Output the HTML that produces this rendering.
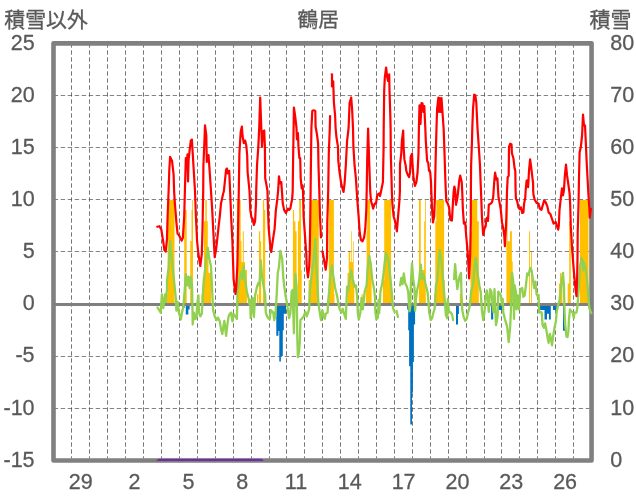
<!DOCTYPE html>
<html lang="ja"><head><meta charset="utf-8"><title>鶴居</title>
<style>
html,body{margin:0;padding:0;background:#fff;}
body{width:636px;height:501px;overflow:hidden;font-family:"Liberation Sans",sans-serif;}
svg{display:block;}
text{font-family:"Liberation Sans",sans-serif;font-size:22.9px;fill:#595959;stroke:#595959;stroke-width:0.3px;}
</style></head><body>
<svg width="636" height="501" viewBox="0 0 636 501" style="will-change:transform">
<rect width="636" height="501" fill="#fff"/>
<g stroke="#4a4a4a" stroke-width="0.75" stroke-dasharray="4.4 2.6" fill="none">
<line x1="71.50" y1="43.3" x2="71.50" y2="458.50"/>
<line x1="89.50" y1="43.3" x2="89.50" y2="458.50"/>
<line x1="107.50" y1="43.3" x2="107.50" y2="458.50"/>
<line x1="125.50" y1="43.3" x2="125.50" y2="458.50"/>
<line x1="143.50" y1="43.3" x2="143.50" y2="458.50"/>
<line x1="161.50" y1="43.3" x2="161.50" y2="458.50"/>
<line x1="179.50" y1="43.3" x2="179.50" y2="458.50"/>
<line x1="197.50" y1="43.3" x2="197.50" y2="458.50"/>
<line x1="215.50" y1="43.3" x2="215.50" y2="458.50"/>
<line x1="233.50" y1="43.3" x2="233.50" y2="458.50"/>
<line x1="251.50" y1="43.3" x2="251.50" y2="458.50"/>
<line x1="269.50" y1="43.3" x2="269.50" y2="458.50"/>
<line x1="286.50" y1="43.3" x2="286.50" y2="458.50"/>
<line x1="304.50" y1="43.3" x2="304.50" y2="458.50"/>
<line x1="322.50" y1="43.3" x2="322.50" y2="458.50"/>
<line x1="340.50" y1="43.3" x2="340.50" y2="458.50"/>
<line x1="358.50" y1="43.3" x2="358.50" y2="458.50"/>
<line x1="376.50" y1="43.3" x2="376.50" y2="458.50"/>
<line x1="394.50" y1="43.3" x2="394.50" y2="458.50"/>
<line x1="412.50" y1="43.3" x2="412.50" y2="458.50"/>
<line x1="430.50" y1="43.3" x2="430.50" y2="458.50"/>
<line x1="448.50" y1="43.3" x2="448.50" y2="458.50"/>
<line x1="466.50" y1="43.3" x2="466.50" y2="458.50"/>
<line x1="484.50" y1="43.3" x2="484.50" y2="458.50"/>
<line x1="501.50" y1="43.3" x2="501.50" y2="458.50"/>
<line x1="519.50" y1="43.3" x2="519.50" y2="458.50"/>
<line x1="537.50" y1="43.3" x2="537.50" y2="458.50"/>
<line x1="555.50" y1="43.3" x2="555.50" y2="458.50"/>
<line x1="573.50" y1="43.3" x2="573.50" y2="458.50"/>
<line x1="53.7" y1="95.50" x2="589.60" y2="95.50" stroke-width="0.68"/>
<line x1="53.7" y1="147.50" x2="589.60" y2="147.50" stroke-width="0.68"/>
<line x1="53.7" y1="199.50" x2="589.60" y2="199.50" stroke-width="0.68"/>
<line x1="53.7" y1="251.50" x2="589.60" y2="251.50" stroke-width="0.68"/>
<line x1="53.7" y1="356.50" x2="589.60" y2="356.50" stroke-width="0.68"/>
<line x1="53.7" y1="408.50" x2="589.60" y2="408.50" stroke-width="0.68"/>
</g>
<path fill="#FFC000" d="M165.7,304.1V294.3H167.6V200.0H174.5V304.1ZM184.2,304.1V210.0H186.7V304.1ZM190.2,304.1V241.0H191.5V210.0H192.2V200.0H193.0V304.1ZM201.5,304.1V294.0H202.8V276.6H204.0V221.2H205.3V200.0H206.8V221.2H207.8V250.0H208.5V272.9H211.0V304.1ZM236.9,304.1V200.0H240.7V241.3H241.5V262.0H242.8V231.3H243.8V262.0H245.0V270.0H246.9V304.1ZM257.0,304.1V294.3H258.3V304.1ZM258.9,304.1V231.3H260.2V241.3H261.2V304.1ZM262.9,304.1V200.0H264.2V209.9H265.2V304.1ZM292.9,304.1V209.9H294.1V221.2H295.4V231.3H296.6V304.1ZM297.9,304.1V221.2H299.2V200.0H301.0V270.0H301.7V304.1ZM308.6,304.1V280.0H310.5V200.0H318.8V304.1ZM328.8,304.1V200.0H333.9V294.0H334.5V304.1ZM347.5,304.1V272.9H348.7V252.0H350.2V262.0H351.2V231.3H351.9V262.0H353.0V241.3H353.7V280.0H354.3V304.1ZM361.5,304.1V294.3H362.8V304.1ZM365.9,304.1V290.0H366.6V231.3H367.2V200.0H370.1V261.5H371.6V304.1ZM382.9,304.1V280.0H384.2V200.0H391.1V290.0H391.7V304.1ZM415.8,304.1V300.0H417.0V304.1ZM418.9,304.1V200.0H420.8V270.0H424.2V221.2H425.0V200.0H425.8V304.1ZM434.0,304.1V294.0H435.3V221.2H436.3V200.0H444.1V280.0H444.7V304.1ZM459.8,304.1V294.0H461.0V304.1ZM470.5,304.1V232.0H471.7V200.0H477.3V221.2H478.8V304.1ZM506.4,304.1V241.3H507.4V200.0H508.0V241.3H510.0V231.3H511.9V261.5H512.7V304.1ZM529.1,304.1V231.3H530.0V304.1ZM531.0,304.1V252.0H531.9V304.1ZM558.9,304.1V283.6H560.0V272.9H561.4V283.6H562.4V304.1ZM567.7,304.1V283.6H569.2V221.4H570.8V304.1ZM580.0,304.1V200.0H588.5V304.1Z"/>
<path fill="#0070C0" d="M182.0,304.1V308.0H184.6V304.1ZM185.8,304.1V314.5H188.3V309.4H189.6V304.1ZM276.3,304.1V335.8H278.4V331.0H279.3V361.6H280.9V356.0H282.8V330.2H283.8V313.8H286.0V304.1ZM407.2,304.1V309.4H408.2V330.2H409.1V366.3H410.3V424.5H412.0V392.7H412.9V361.9H413.9V324.5H415.1V304.1ZM456.0,304.1V324.5H458.0V314.0H458.9V304.1ZM491.1,304.1V319.5H493.2V304.1ZM498.9,304.1V310.0H502.0V304.1ZM540.0,304.1V310.0H544.5V319.5H547.0V313.8H548.9V319.5H550.8V304.1ZM553.0,304.1V310.0H556.8V304.1ZM563.0,304.1V330.8H565.0V304.1Z"/>
<line x1="53.4" y1="304.5" x2="591.6" y2="304.5" stroke="#808080" stroke-width="3"/>
<rect x="53.5" y="43.35" width="538.05" height="417.15" fill="none" stroke="#808080" stroke-width="4.6" stroke-linejoin="round"/>
<g fill="none" stroke="#92D050" stroke-width="2.3" stroke-linejoin="round" stroke-linecap="round">
<polyline points="157.5,307.5 160.7,312.6 161.9,294.3 163.2,308.0 165.1,294.3 165.7,301.8 167.0,289.2 167.0,280.4 168.8,266.6 170.1,241.0 172.0,260.3 173.9,279.2 175.8,298.0 176.4,310.7 177.6,302.0 178.9,312.6 180.8,319.5 182.0,312.6 183.3,306.8 184.6,291.7 185.8,274.1 187.1,285.4 188.3,276.6 189.6,288.0 190.8,276.6 192.1,286.7 192.4,304.3 192.7,324.5 194.0,312.6 195.3,318.9 196.6,317.6 197.1,304.3 198.4,295.5 199.0,312.6 200.3,316.4 201.8,313.8 202.4,304.3 203.4,285.4 204.7,272.9 205.9,260.3 207.8,248.0 209.1,257.8 211.0,266.6 212.2,291.7 213.1,310.1 214.7,316.4 216.6,320.1 217.9,317.6 219.8,321.4 221.0,328.9 222.3,334.0 223.6,325.2 224.4,320.8 226.1,335.8 227.3,325.2 228.6,316.4 229.8,313.8 231.1,312.6 232.4,321.4 233.6,313.8 235.0,316.0 236.9,318.9 237.5,293.0 239.4,279.2 241.3,271.6 242.5,279.2 243.8,266.0 245.1,279.2 246.9,291.7 248.8,299.3 249.5,304.3 250.2,300.0 250.7,318.2 252.0,305.0 252.6,298.0 253.9,317.0 255.1,295.5 257.0,286.7 258.3,282.9 259.5,285.4 260.8,260.3 262.0,276.6 263.9,288.0 265.2,295.0 265.8,312.6 267.1,316.4 268.3,318.2 269.6,319.5 270.8,310.1 272.1,311.3 273.3,312.6 274.2,320.1 275.3,316.4 276.3,302.0 276.5,298.0 277.8,272.9 279.0,266.6 280.3,251.0 282.2,259.0 283.4,279.2 285.3,294.3 286.6,301.0 287.6,307.5 289.1,318.2 290.3,313.5 291.0,303.8 291.6,291.7 292.6,290.0 293.2,310.0 293.9,333.3 294.6,300.0 295.4,274.1 296.6,286.7 297.0,312.6 297.3,337.7 297.9,357.2 299.2,350.3 299.8,341.5 300.4,320.1 301.7,318.9 303.6,316.4 305.4,312.0 306.7,316.4 308.0,312.6 309.2,308.8 309.8,291.7 311.1,279.2 312.4,269.1 313.6,260.3 315.3,239.0 316.3,266.6 317.5,285.4 318.3,302.0 319.4,310.1 321.0,320.1 322.3,310.1 323.8,316.4 324.8,318.9 325.7,313.8 327.6,312.6 328.2,300.5 329.1,291.7 330.1,276.6 332.0,265.3 333.2,275.4 335.1,288.0 337.0,295.5 338.6,304.3 339.5,308.8 341.4,312.6 342.7,308.8 344.6,315.1 345.8,318.9 346.4,304.3 347.1,286.7 348.3,290.5 349.6,279.2 351.2,270.4 352.7,279.2 354.6,286.7 355.9,285.4 357.1,295.5 357.8,312.6 358.8,319.5 360.3,313.0 361.5,298.0 362.8,309.3 364.7,291.7 366.6,285.4 367.8,266.6 369.3,255.9 371.0,266.6 372.2,279.2 374.1,289.2 375.0,297.0 375.4,312.6 376.4,319.5 377.9,317.6 378.6,300.0 379.2,313.1 380.4,291.7 382.3,282.9 383.6,272.9 384.8,261.5 386.1,252.6 388.6,261.5 390.5,279.2 391.7,291.7 393.0,308.1 394.6,312.0"/>
<polyline points="396.6,311.0 397.9,317.0"/>
<polyline points="400.0,285.4 401.3,277.9 402.5,284.2 403.8,273.5 405.1,282.9 406.9,286.7 408.2,291.7 409.0,304.3 409.5,311.3 410.1,309.3 411.1,279.2 412.0,263.4 413.2,279.2 414.5,288.0 415.1,310.7 415.8,300.5 417.0,290.5 418.3,285.4 419.5,276.6 420.8,264.7 422.0,279.2 423.3,274.1 424.6,279.2 425.8,285.4 427.5,291.7 428.5,301.8 429.2,312.6 430.8,320.1 432.1,318.2 433.4,312.6 434.6,309.0 435.3,300.0 435.9,285.4 437.1,281.7 438.4,266.6 439.7,250.0 441.5,261.5 442.5,272.9 443.8,289.2 444.9,301.8 445.9,315.1 447.2,318.2 447.8,299.0 448.4,307.5 449.1,311.9 451.0,312.6 452.2,315.1 453.1,320.1"/>
<polyline points="454.1,279.2 455.1,264.1 456.4,279.2 457.3,289.2 458.5,281.7 459.8,275.4 461.0,272.9 461.4,291.7 462.3,310.0 463.5,316.4 465.2,320.8 466.7,318.9 468.0,312.6 469.8,306.0 471.1,291.7 473.0,285.4 474.3,270.0 475.5,257.8 476.3,260.3 477.5,272.9 479.4,285.4 480.7,291.7 481.5,304.3 481.9,310.1 483.2,320.1 484.4,312.6 485.7,295.5 486.9,290.5 488.2,304.3 488.8,311.9 490.1,289.2 491.4,291.7 492.6,304.3 493.5,312.0 494.5,289.2 495.3,310.0 496.0,325.2 496.8,321.0 497.6,316.4 498.3,291.7 499.5,293.0 500.8,295.5 502.0,304.3 502.7,299.0 503.3,312.6 505.2,320.1 507.1,326.4 508.7,342.1 510.2,326.4 511.0,308.0 511.5,279.2 512.1,272.9 513.4,282.9 514.0,318.9 514.6,285.4 515.9,291.7 516.5,309.3 517.8,295.5 519.0,309.3 520.3,289.2 522.2,288.0 523.4,296.8 524.7,295.5 525.9,285.4 527.2,273.5 528.4,275.4 530.3,267.8 531.6,270.4 532.9,279.2 534.1,288.0 535.4,281.7 536.6,294.3 537.9,296.8 538.6,294.9 539.2,312.6 540.7,312.0 541.7,312.6 542.6,325.2 543.9,327.7 545.1,323.3 546.4,330.2 547.6,337.7 548.6,342.8 549.9,334.0 550.8,337.7 552.0,345.3 553.3,335.2 554.5,327.7 555.8,322.0 556.7,312.0 558.3,304.3 559.5,300.5 560.8,289.2 562.0,279.2 563.0,272.9 563.9,285.4 564.6,312.6 565.2,325.2 566.5,336.5 567.5,337.1 568.4,331.4 569.0,318.9 570.0,309.4 571.3,311.3 572.8,312.6 573.8,318.2 574.4,312.6 576.5,312.6 577.5,306.3 577.9,300.0 579.0,285.4 580.0,266.6 581.5,257.8 582.8,261.5 583.4,270.4 584.3,262.8 585.3,266.6 586.5,274.1 587.5,285.4 588.4,298.0 589.3,308.1 591.3,313.1"/>
</g>
<g fill="none" stroke="#FF0000" stroke-width="2.2" stroke-linejoin="round" stroke-linecap="round">
<polyline points="157.3,226.8 159.4,226.2 161.3,229.4 163.2,241.3 164.4,250.1 165.7,251.6 167.0,238.8 167.6,216.2 168.6,191.0 169.3,170.0 170.1,156.9 172.0,160.7 173.6,174.5 174.1,191.0 174.9,203.6 176.4,222.4 177.6,233.8 178.9,235.0 180.3,238.0 181.7,240.7 182.9,237.5 184.2,216.2 184.9,191.0 185.8,158.2 186.4,168.3 187.5,154.4 188.0,181.5 188.6,160.0 189.6,150.6 190.8,140.6 191.9,139.6 192.7,153.2 195.0,191.0 195.9,216.2 197.1,241.3 198.4,254.0 200.3,266.0 201.8,254.0 202.5,228.7 203.2,191.0 203.4,165.7 204.7,134.3 205.0,125.4 206.3,135.5 206.8,162.0 208.5,155.0 209.1,163.2 211.0,191.0 212.2,209.9 213.5,235.0 214.7,257.1 216.0,250.0 217.3,238.8 218.5,227.5 219.8,216.2 221.0,203.6 222.9,194.8 223.9,191.0 226.1,169.5 227.0,168.5 227.7,173.3 229.2,170.8 230.1,191.0 231.1,216.2 232.4,241.3 233.6,279.2 235.5,294.0 236.3,286.7 237.3,266.6 237.6,254.0 238.3,216.0 238.8,191.0 239.4,153.2 240.7,131.8 241.9,126.6 242.5,135.5 243.8,143.1 245.1,140.6 246.3,145.6 247.2,155.7 247.6,172.0 248.8,184.0 249.5,191.0 250.3,209.9 251.4,217.4 252.6,218.7 253.9,225.0 255.1,221.2 256.0,203.6 256.2,191.0 257.0,165.7 258.3,146.9 259.2,128.0 260.2,97.5 261.3,128.0 262.0,146.9 262.9,131.8 264.2,130.5 264.9,146.9 265.2,178.3 266.4,184.6 267.5,191.0 268.0,209.9 268.7,228.7 270.2,245.1 271.2,252.0 272.7,241.3 274.6,228.7 275.9,209.9 277.1,201.0 278.1,191.0 279.0,176.4 280.0,183.3 281.3,182.1 281.9,191.0 282.8,203.6 284.1,209.9 285.9,213.0 287.8,208.6 289.1,209.9 290.3,208.6 292.2,198.5 292.7,191.0 293.1,159.4 293.6,128.0 293.9,107.5 295.0,115.0 296.5,128.0 296.9,139.3 297.9,133.0 298.5,146.9 299.4,158.2 300.2,158.2 300.7,178.3 301.7,188.4 302.6,185.5 303.0,191.0 303.6,216.2 305.4,241.3 306.3,254.0 306.7,266.6 308.0,277.3 309.2,266.6 309.7,254.0 310.2,222.4 310.6,191.0 310.9,165.7 311.4,128.0 312.3,111.0 313.6,110.3 315.3,111.0 315.6,126.7 316.9,134.0 318.1,143.1 318.5,165.7 319.3,191.0 320.0,216.2 321.0,237.5"/>
<polyline points="322.4,251.4 323.2,255.0 325.7,269.7 327.0,258.0 327.3,222.0 328.2,191.0 328.8,153.2 329.8,128.0 330.1,116.0"/>
<polyline points="331.7,74.4 332.0,74.4 332.0,86.4 333.2,81.4 333.9,102.7 335.1,115.3 335.6,128.0 336.4,136.8 338.0,146.9 338.3,160.7 339.5,172.0 341.4,184.6 343.5,192.0 344.6,183.3 345.8,165.7 347.1,140.6 348.6,128.0 349.6,102.7 351.2,97.5 352.1,109.0 353.0,128.0 353.4,146.9 354.6,165.7 355.9,178.3 356.7,191.0 357.6,203.6 358.6,216.2 359.7,232.5 360.9,240.0 362.5,241.3 364.1,237.5 365.3,228.7 366.3,209.9 366.7,191.0 367.2,159.4 368.1,128.6 369.1,159.4 370.2,191.0 371.0,201.0 372.2,204.8 373.1,208.6 374.7,203.6 376.0,203.6 377.3,194.8 379.2,193.5 380.0,196.0 381.0,191.5 382.9,182.1 383.6,146.9 383.7,128.0 384.2,90.2 384.8,77.6 386.1,67.5 387.3,77.6 388.0,81.0 389.2,74.4 389.5,90.2 390.3,115.3 390.6,128.0 390.8,153.2 391.5,178.3 391.8,191.0 392.4,203.6 393.6,216.2 395.0,221.0 396.9,231.3 398.1,216.2 399.4,201.0 399.9,191.0 400.0,164.5 401.3,153.2 401.9,140.6 403.2,130.5 403.6,146.9 404.4,159.4 405.7,165.7 406.3,170.8 407.6,174.5 409.1,177.1 410.1,172.0 410.7,156.9 412.0,153.8 412.6,165.7 413.6,178.3 414.9,185.9 416.4,182.1 417.6,172.0 418.5,153.2 418.9,128.0 419.5,105.3 420.5,124.0 421.5,103.0 422.5,103.5 423.5,112.0 424.3,106.0 425.3,128.0 425.8,140.6 427.1,160.7 428.3,163.2 429.0,170.8 430.2,172.0 431.0,182.1 431.3,191.0 432.1,209.9 433.0,222.4 434.2,216.2 434.9,197.3 435.0,191.0 435.5,165.7 436.3,134.3 436.5,128.0 437.1,109.0 438.4,97.7 439.0,112.0 439.7,98.0 440.7,112.0 441.5,98.0 442.5,112.8 443.6,128.0 444.1,140.6 444.7,159.4 445.3,178.3 445.8,191.0 446.3,201.0 447.8,203.6 449.1,207.3 450.3,219.9 451.9,220.6 452.9,203.6 453.7,191.0 454.4,186.5 455.2,190.0 456.0,204.8 457.3,198.5 458.2,191.0 459.2,180.8 460.2,175.5 461.7,182.1 462.2,191.0 462.9,209.9 463.9,223.7 465.2,222.4 466.1,235.0 467.3,247.6 467.8,254.0 469.1,278.5 470.2,254.0 470.8,222.4 470.9,191.0 471.1,165.7 472.0,140.6 472.3,128.0 473.0,109.0 474.2,94.6 475.3,95.2 476.3,102.7 477.5,128.0 478.8,146.9 480.0,165.7 480.7,184.6 481.0,191.0 481.9,216.2 483.2,235.0 484.4,228.7 485.7,226.2 486.3,218.7 487.6,217.4 488.0,221.0 488.8,204.8 490.7,203.6 492.0,202.3 493.2,197.3 493.6,191.0 494.5,178.3 495.1,172.7 496.4,179.6 497.4,178.3 498.1,191.0 498.5,197.3 499.5,202.3 500.8,209.9 502.0,222.4 503.3,228.7 504.2,235.0 504.9,246.3 505.6,235.0 506.4,216.2 507.0,191.0 507.7,177.1 508.7,175.8 509.0,146.9 510.2,143.7 511.5,144.5 511.9,153.2 513.4,158.2 514.6,168.3 515.3,171.0 515.6,191.0 515.9,198.5 517.1,201.0 518.4,207.3 519.7,209.2 520.9,207.3 522.2,213.0 523.4,212.4 524.1,203.6 525.3,197.3 525.6,191.0 526.6,180.8 527.6,180.2 528.1,187.1 529.1,169.5 530.1,159.4 531.0,165.7 532.2,175.8 533.1,183.3 533.2,191.0 533.5,194.8 534.7,199.8 536.6,202.9 538.5,203.6 539.8,208.6 541.4,209.9 542.9,204.8 544.2,200.4 545.4,201.7 547.3,206.1 548.6,212.4 550.5,214.3 551.7,218.0 553.6,223.7 555.7,222.0 557.0,226.4 558.2,229.6 558.8,226.0 559.5,210.1 560.8,198.0 562.0,188.4 563.0,195.3 563.9,190.3 564.9,175.2 566.0,164.5 567.0,175.2 568.3,184.0 569.6,193.5 570.2,205.0 570.8,226.4 572.1,249.0 574.0,272.9 575.5,289.2 576.5,296.1 577.2,275.0 577.5,257.9 577.7,232.7 578.5,205.0 579.0,177.7 579.6,152.6 580.9,146.4 582.1,135.3 583.0,114.6 584.0,125.3 585.0,125.3 585.9,144.0 586.5,158.9 587.5,177.7 588.4,194.0 589.3,207.6 589.7,217.6 590.9,208.8"/>
</g>
<polygon fill="#7030A0" points="155.9,461.1 158.6,458.8 261.6,458.8 264,461.1"/>
<g text-anchor="end">
<text transform="translate(34.6,49.50) scale(0.94,1)">25</text>
<text transform="translate(34.6,101.64) scale(0.94,1)">20</text>
<text transform="translate(34.6,153.79) scale(0.94,1)">15</text>
<text transform="translate(34.6,205.93) scale(0.94,1)">10</text>
<text transform="translate(34.6,258.07) scale(0.94,1)">5</text>
<text transform="translate(34.6,310.22) scale(0.94,1)">0</text>
<text transform="translate(34.6,362.36) scale(0.94,1)">-5</text>
<text transform="translate(34.6,414.51) scale(0.94,1)">-10</text>
<text transform="translate(34.6,466.65) scale(0.94,1)">-15</text>
</g><g>
<text transform="translate(610.3,49.50) scale(0.94,1)">80</text>
<text transform="translate(610.3,101.64) scale(0.94,1)">70</text>
<text transform="translate(610.3,153.79) scale(0.94,1)">60</text>
<text transform="translate(610.3,205.93) scale(0.94,1)">50</text>
<text transform="translate(610.3,258.07) scale(0.94,1)">40</text>
<text transform="translate(610.3,310.22) scale(0.94,1)">30</text>
<text transform="translate(610.3,362.36) scale(0.94,1)">20</text>
<text transform="translate(610.3,414.51) scale(0.94,1)">10</text>
<text transform="translate(610.3,466.65) scale(0.94,1)">0</text>
</g><g text-anchor="middle">
<text transform="translate(80.7,488.6) scale(0.94,1)">29</text>
<text transform="translate(134.5,488.6) scale(0.94,1)">2</text>
<text transform="translate(188.4,488.6) scale(0.94,1)">5</text>
<text transform="translate(242.2,488.6) scale(0.94,1)">8</text>
<text transform="translate(296.0,488.6) scale(0.94,1)">11</text>
<text transform="translate(349.8,488.6) scale(0.94,1)">14</text>
<text transform="translate(403.6,488.6) scale(0.94,1)">17</text>
<text transform="translate(457.4,488.6) scale(0.94,1)">20</text>
<text transform="translate(511.3,488.6) scale(0.94,1)">23</text>
<text transform="translate(565.1,488.6) scale(0.94,1)">26</text>
</g>
<g fill="#595959">
<text x="4.25" y="27.1" style="font-family:'Liberation Sans','Noto Sans CJK JP',sans-serif;font-size:20.9px;">積雪以外</text>
<text x="297.55" y="26.9" style="font-family:'Liberation Sans','Noto Sans CJK JP',sans-serif;font-size:20.7px;">鶴居</text>
<text x="589.45" y="27.1" style="font-family:'Liberation Sans','Noto Sans CJK JP',sans-serif;font-size:21px;">積雪</text>
</g>
</svg></body></html>
